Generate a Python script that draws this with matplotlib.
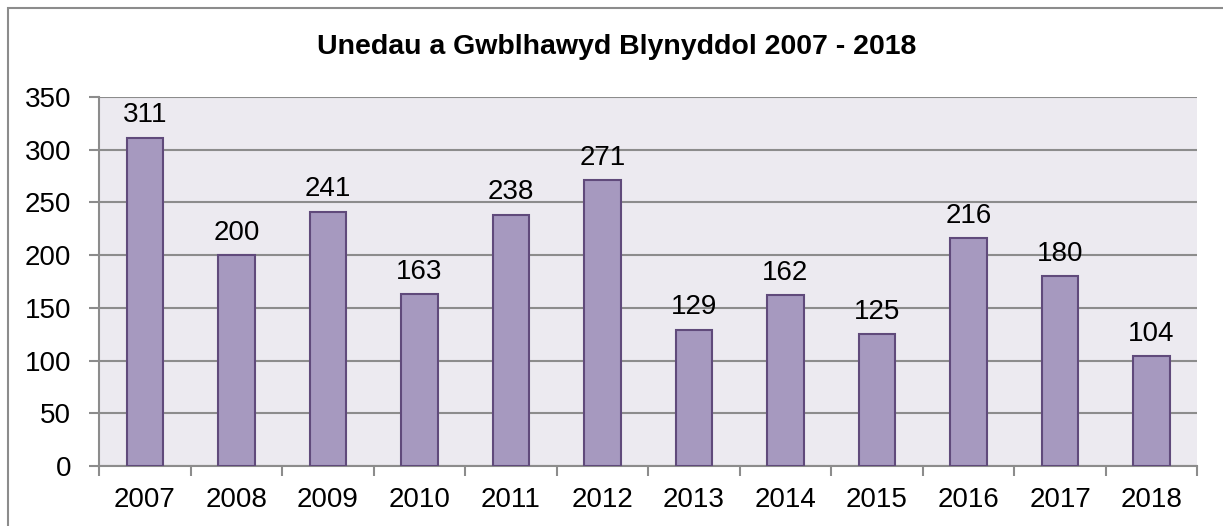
import matplotlib.pyplot as plt
import numpy as np
from matplotlib.patches import Rectangle

plt.rcParams['font.family'] = ['Liberation Sans', 'DejaVu Sans']

# Dados
years = ['2007', '2008', '2009', '2010', '2011', '2012',
         '2013', '2014', '2015', '2016', '2017', '2018']
units = [311, 200, 241, 163, 238, 271, 129, 162, 125, 216, 180, 104]

fig = plt.figure(figsize=(12.23, 5.26), dpi=100)
fig.patches.append(Rectangle((8 / 1223, -0.1), 1.1, 1.1 - 8 / 526,
                             transform=fig.transFigure, fill=False,
                             edgecolor='#8c8c8c', linewidth=1.5))
ax = fig.add_axes([0.081, 0.114, 0.898, 0.702])
ax.set_facecolor('#ECEAF0')

x = np.arange(len(years))
ax.bar(x, units, width=0.4, color='#A699BF', edgecolor='#604A7B',
       linewidth=1.5, zorder=3)

for xi, v in zip(x, units):
    ax.text(xi, v + 9, str(v), ha='center', va='bottom', fontsize=20)

ax.set_xlim(-0.5, len(years) - 0.5)
ax.set_ylim(0, 350)
ax.set_yticks(range(0, 351, 50))
ax.set_xticks(x)
ax.set_xticklabels(years)
ax.set_xticks(np.arange(-0.5, len(years), 1), minor=True)
ax.tick_params(axis='x', which='major', length=0, pad=15, labelsize=20)
ax.tick_params(axis='x', which='minor', length=7, width=1.5, color='#8c8c8c')
ax.tick_params(axis='y', length=7, width=1.5, color='#8c8c8c', labelsize=20, pad=13)

ax.grid(axis='y', color='#8c8c8c', linewidth=1.5, zorder=0)
ax.set_axisbelow(True)
for s in ['top', 'right']:
    ax.spines[s].set_visible(False)
for s in ['left', 'bottom']:
    ax.spines[s].set_color('#8c8c8c')
    ax.spines[s].set_linewidth(1.5)

fig.text(0.504, 1 - 47 / 526, 'Unedau a Gwblhawyd Blynyddol 2007 - 2018',
         ha='center', va='center', fontsize=20.5, fontweight='bold')

plt.savefig('out.png', dpi=100)
